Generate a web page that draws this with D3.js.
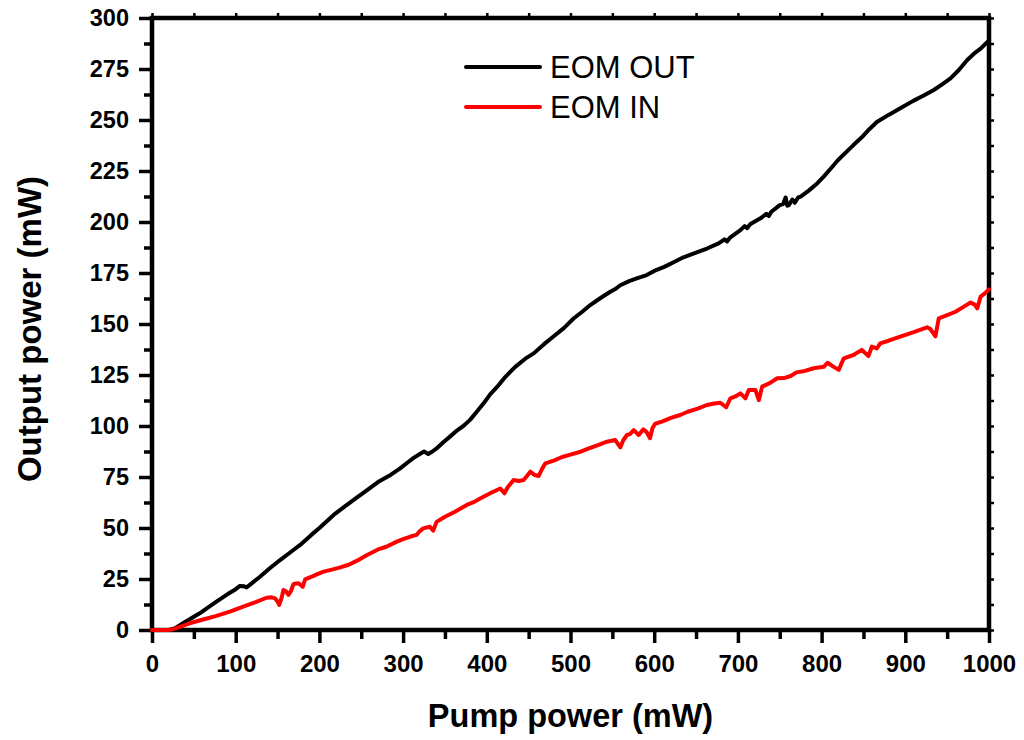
<!DOCTYPE html>
<html>
<head>
<meta charset="utf-8">
<script src="https://cdn.jsdelivr.net/npm/d3@7"></script>
<style>
  html, body { margin: 0; padding: 0; background: #fff; }
  svg { display: block; font-family: "Liberation Sans", Arial, sans-serif; }
</style>
</head>
<body>
<svg id="chart" width="1024" height="740"></svg>
<script>
// ---- data ----
const xTicks = [0, 100, 200, 300, 400, 500, 600, 700, 800, 900, 1000];
const yTicks = [0, 25, 50, 75, 100, 125, 150, 175, 200, 225, 250, 275, 300];
const seriesNames = ["EOM OUT", "EOM IN"];
const seriesColors = ["#000000", "#ff0000"];

const outPump = [0,10,20,25,30,37,45,57,65,77,90,100,105,110,113,118,129,140,153,165,177,190,200,217,230,245,257,270,285,296.5,305,313,320,325,330,335,340,348,356,365,372,380,388,396,404,412,422,434,446,456,468,480,492,504,514,523.6,535,547.5,553,559.5,570,580,591,600,612,622,635,650,663,677,684,687,691,703,708,711,715,727,734,737,740,750,754,757,759,761,765,768,772,775,785,795,803,810.5,820,830,838,848,857,866,880,894,910,922,934,944,954,964,974,982,990,995,1000];
const outPower = [0,0,0,0.5,1.5,3.3,5.3,8.2,10.5,13.9,17.5,20,21.6,21.4,20.9,22.5,26.1,30,34.3,38,41.7,46.5,50,56.4,60.5,65,68.6,72.5,76,79.2,82,84.5,86.3,87.5,86.3,87.5,89,92,94.8,98,100,103,107,111,115.5,119,124,129,133,135.6,140,144,148,152.8,156,159.3,162.5,165.8,167,169,171,172.5,174,176,178,180,182.7,185,187,189.5,191.5,190.5,192.5,196,198,197,199,201.8,204,203,205,208.3,208.8,212,208,208.3,211,209.5,212,212.4,215.5,219,222.5,226,230.5,234.5,237.7,241.5,245.5,249,252.5,255.7,259.5,262,264.7,267.5,270.4,274.5,279.4,282.5,285,287,289];

const inPump = [0,10,20,25,35,45,60,77,93,109,123,137,143,147,150,152,155,157,160,163,166,169,172,175,178,180,183,190,197,205,215,225,235,245,257,270,280,292.5,300,308,316,320,324,332,336,340,350,362,376,385,392,404,416,421,425,432,438,444,448,452,457,462,466,470,480,490,500,512,522,532,543.6,553.5,559.5,563,567.5,571,575.5,581.5,587,591,595,598,601,610,620,631,640,652,663,672,679,686,691,697,703,709,713,721,725,729,738,747,755,763,770,780,790.5,802.5,807,814.5,820.5,826.5,838,848,856,860,866,870,880,894,910,926,930,936,940,950,960,970,978,983,986,990,995,1000];
const inPower = [0,0,0,0.4,1.8,3.3,5,6.9,9,11.4,13.5,15.8,16,15.5,14,12.3,16,19.6,19,17.2,19,22.5,22.8,22.9,22,21.2,24.8,26,27.3,28.6,29.6,30.7,32,34,36.8,39.5,40.8,43.3,44.5,45.7,46.6,48.5,49.8,50.6,48.7,53,55.5,58,61.3,62.8,64.5,67,69.4,67,70,73.5,73,73.5,75.5,77.6,76,75.5,79,81.7,83,84.8,86,87.4,89,90.5,92.3,93.1,89.5,93,95.6,96,98,95.6,98.4,97,94,99,101,102.3,104,105.4,107,108.5,110.3,111,111.4,109.2,113.6,114.5,116,113.6,117.6,117.6,112.7,119.3,121,123.4,123.5,124.5,126.3,127,128.3,129,131,129,127.5,133.2,134.8,137.3,134.3,138.9,138,140.5,141.8,143.8,146,148.4,147.5,144,152.8,154.4,156,158.5,160.5,159.5,157.7,163.4,165,167];

const xLabel = "Pump power (mW)";
const yLabel = "Output power (mW)";

// ---- layout ----
const svg = d3.select("#chart");
const mLeft = 152, mRight = 989, mTop = 18, mBottom = 630;

const x = d3.scaleLinear().domain([0, 1000]).range([mLeft, mRight]);
const y = d3.scaleLinear().domain([0, 300]).range([mBottom, mTop]);

const xMinor = d3.range(50, 1000, 100);
const yMinor = d3.range(12.5, 300, 25);

const axisW = 4.5;
const font = '"Liberation Sans", Arial, sans-serif';

const g = svg.append("g");

// bottom axis
const xAxis = d3.axisBottom(x).tickValues(xTicks).tickSize(13).tickPadding(12).tickFormat(d3.format("d"));
const gx = g.append("g").attr("transform", `translate(0,${mBottom})`).call(xAxis);
gx.select(".domain").remove();
gx.selectAll(".tick line").attr("stroke", "#000").attr("stroke-width", 3.5);
gx.selectAll(".tick text").attr("font-family", font).attr("font-size", 24).attr("font-weight", "bold").attr("fill", "#000");
const gxm = g.append("g").attr("transform", `translate(0,${mBottom})`)
  .call(d3.axisBottom(x).tickValues(xMinor).tickSize(9).tickFormat(""));
gxm.select(".domain").remove();
gxm.selectAll(".tick line").attr("stroke", "#000").attr("stroke-width", 3.5);

// left axis
const yAxis = d3.axisLeft(y).tickValues(yTicks).tickSize(13).tickPadding(10).tickFormat(d3.format("d"));
const gy = g.append("g").attr("transform", `translate(${mLeft},0)`).call(yAxis);
gy.select(".domain").remove();
gy.selectAll(".tick line").attr("stroke", "#000").attr("stroke-width", 3.5);
gy.selectAll(".tick text").attr("font-family", font).attr("font-size", 23.5).attr("font-weight", "bold").attr("fill", "#000");
const gym = g.append("g").attr("transform", `translate(${mLeft},0)`)
  .call(d3.axisLeft(y).tickValues(yMinor).tickSize(8).tickFormat(""));
gym.select(".domain").remove();
gym.selectAll(".tick line").attr("stroke", "#000").attr("stroke-width", 3.5);

// top & right tiny ticks
const gt = g.append("g").attr("transform", `translate(0,${mTop})`)
  .call(d3.axisTop(x).tickValues(xTicks.concat(xMinor)).tickSize(5).tickFormat(""));
gt.select(".domain").remove();
gt.selectAll(".tick line").attr("stroke", "#000").attr("stroke-width", 2.5);
const gr = g.append("g").attr("transform", `translate(${mRight},0)`)
  .call(d3.axisRight(y).tickValues(yTicks.concat(yMinor)).tickSize(5).tickFormat(""));
gr.select(".domain").remove();
gr.selectAll(".tick line").attr("stroke", "#000").attr("stroke-width", 2.5);

// frame rectangle
g.append("rect")
  .attr("x", mLeft).attr("y", mTop)
  .attr("width", mRight - mLeft).attr("height", mBottom - mTop)
  .attr("fill", "none").attr("stroke", "#000").attr("stroke-width", axisW);

// data lines (drawn over the frame)
const line = d3.line().x(d => x(d[0])).y(d => y(d[1]));
const series = [
  d3.zip(outPump, outPower),
  d3.zip(inPump, inPower)
];
series.forEach((s, i) => {
  g.append("path")
    .datum(s)
    .attr("d", line)
    .attr("fill", "none")
    .attr("stroke", seriesColors[i])
    .attr("stroke-width", 4)
    .attr("stroke-linejoin", "round")
    .attr("stroke-linecap", "round");
});

// axis titles
svg.append("text")
  .attr("x", (mLeft + mRight) / 2).attr("y", 727)
  .attr("text-anchor", "middle")
  .attr("font-family", font).attr("font-size", 32.5).attr("font-weight", "bold")
  .text(xLabel);
svg.append("text")
  .attr("transform", `translate(41,${(mTop + mBottom) / 2 + 5}) rotate(-90)`)
  .attr("text-anchor", "middle")
  .attr("font-family", font).attr("font-size", 33).attr("font-weight", "bold")
  .text(yLabel);

// legend
const legend = svg.append("g");
seriesNames.forEach((name, i) => {
  const ly = 67 + i * 40;
  legend.append("line")
    .attr("x1", 466).attr("x2", 540).attr("y1", ly).attr("y2", ly)
    .attr("stroke", seriesColors[i]).attr("stroke-width", 4)
    .attr("stroke-linecap", "round");
  legend.append("text")
    .attr("x", 550).attr("y", ly + 10.5)
    .attr("font-family", font).attr("font-size", 31)
    .attr("fill", "#000")
    .text(name);
});
</script>
</body>
</html>
